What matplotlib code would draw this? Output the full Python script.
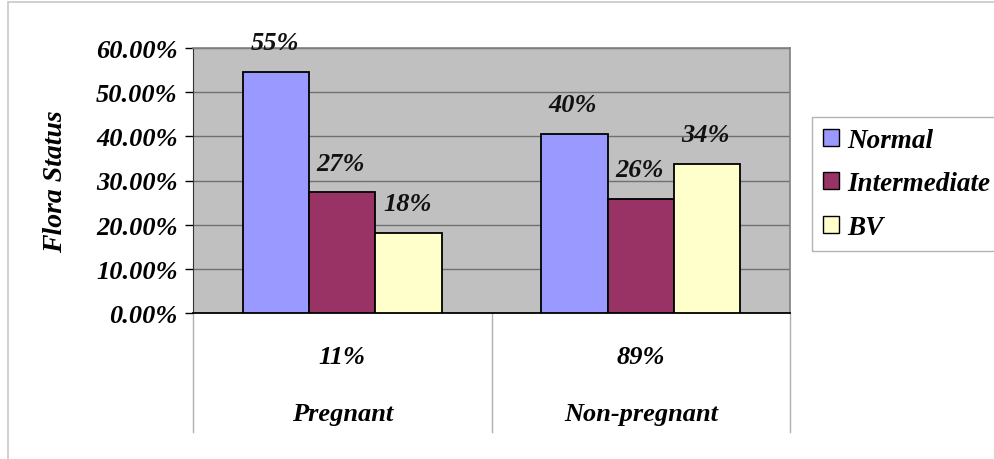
import matplotlib
matplotlib.use("Agg")
import matplotlib.pyplot as plt
from matplotlib.patches import Rectangle
import numpy as np

categories = ["Pregnant", "Non-pregnant"]
category_share = ["11%", "89%"]
series_names = ["Normal", "Intermediate", "BV"]
normal = [54.6, 40.5]
intermediate = [27.3, 25.8]
bv = [18.2, 33.7]
value_labels = [["55%", "40%"], ["27%", "26%"], ["18%", "34%"]]
yticks = [0, 10, 20, 30, 40, 50, 60]
ytick_labels = ["0.00%", "10.00%", "20.00%", "30.00%", "40.00%", "50.00%", "60.00%"]

colors = ["#9999ff", "#993366", "#ffffcc"]
plt.rcParams['font.family'] = ['Liberation Serif', 'DejaVu Serif']
fw = dict(fontweight='bold', fontstyle='italic')

W, H = 994, 460
fig = plt.figure(figsize=(W / 100, H / 100), dpi=100)
fig.patch.set_facecolor('white')

# outer chart frame
fig.patches.append(Rectangle((8 / W, -0.1), 1.2, 1.1 - 3 / H, transform=fig.transFigure,
                             fill=False, edgecolor='#c8c8c8', lw=1.2, zorder=0))

x0, x1, ytop, ybot = 193, 790, 49, 314
ax = fig.add_axes([x0 / W, (H - ybot) / H, (x1 - x0) / W, (ybot - ytop) / H])
ax.set_facecolor('#c0c0c0')
ax.set_xlim(0, 2)
ax.set_ylim(0, 60)

series = [normal, intermediate, bv]
bw = 0.222
xc = np.arange(len(categories)) + 0.5
for i, (vals, col) in enumerate(zip(series, colors)):
    xs = xc + (i - 1) * bw
    ax.bar(xs, vals, width=bw, color=col, edgecolor='black', linewidth=1.3,
           label=series_names[i], zorder=3)
    for x, v, lab in zip(xs, vals, value_labels[i]):
        ax.annotate(lab, (x, v), xytext=(-1, 21), textcoords='offset points',
                    ha='center', va='center', fontsize=19, color='#111111',
                    zorder=5, annotation_clip=False, **fw)

ax.set_yticks(yticks)
ax.set_yticklabels(ytick_labels, fontsize=19, **fw)
ax.yaxis.grid(True, color='#707070', lw=1.0, zorder=1)
ax.set_axisbelow(True)
ax.set_xticks([])
ax.tick_params(axis='y', length=6, width=1, color='black', pad=5)
for s in ['top', 'right']:
    ax.spines[s].set_color('#808080')
    ax.spines[s].set_linewidth(1.2)
ax.spines['left'].set_color('#333333')
ax.spines['bottom'].set_color('black')
ax.spines['bottom'].set_linewidth(1.3)
ax.set_ylabel("Flora Status", fontsize=20, labelpad=20, **fw)

# category table below axis
trans = ax.get_xaxis_transform()
for xv in [0, 1, 2]:
    ax.plot([xv, xv], [0, -0.45], transform=trans, color='#b0b0b0', lw=1.0,
            clip_on=False)
for x, share, cat in zip(xc, category_share, categories):
    ax.text(x, -(357 - ybot) / (ybot - ytop), share, transform=trans,
            ha='center', va='center', fontsize=19, **fw)
    ax.text(x, -(414 - ybot) / (ybot - ytop), cat, transform=trans,
            ha='center', va='center', fontsize=19, **fw)

leg = fig.legend(loc='upper left', bbox_to_anchor=(812 / W, 1 - 118 / H),
                 prop=dict(family='Liberation Serif', weight='bold', style='italic', size=19.5),
                 frameon=True, fancybox=False, edgecolor='#a0a0a0',
                 handlelength=0.6, handleheight=0.6, handletextpad=0.3,
                 labelspacing=0.68, borderpad=0.4, borderaxespad=0)
leg.get_frame().set_linewidth(1.0)
for h in leg.legend_handles:
    h.set_linewidth(1.0)

fig.savefig("out.png", dpi=100)
